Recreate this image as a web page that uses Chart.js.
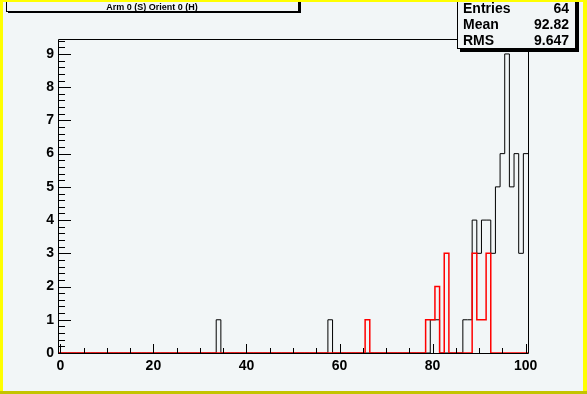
<!DOCTYPE html>
<html><head><meta charset="utf-8">
<script src="https://cdn.jsdelivr.net/npm/chart.js@4/dist/chart.umd.min.js"></script>
<style>html,body{margin:0;padding:0;background:#f2f6f7;overflow:hidden}</style>
</head><body>
<div style="width:587px;height:394px;position:relative"><canvas id="c" width="587" height="394"></canvas></div>
<script>
// ---- data ----
const titleText = "Arm 0 (S) Orient 0 (H)";
const statsLabels = ["Entries", "Mean", "RMS"];
const statsValues = ["64", "92.82", "9.647"];
const blackBins   = [34, 58, 80, 81, 87, 88, 89, 90, 91, 92, 93, 94, 95, 96, 97, 98, 99, 100];
const blackCounts = [ 1,  1,  1,  1,  1,  1,  4,  3,  4,  4,  3,  5,  6,  9,  5,  6,  3,   6];
const redBins     = [66, 79, 80, 81, 83, 89, 90, 91, 92];
const redCounts   = [ 1,  1,  1,  2,  3,  3,  1,  1,  3];
const xTickLabels = [0, 20, 40, 60, 80, 100];
const yTickLabels = [0, 1, 2, 3, 4, 5, 6, 7, 8, 9];
const xMin = -0.5, xMax = 100.5, yMax = 9.45, nBins = 101;

function histSteps(bins, counts) {
  const h = new Array(nBins).fill(0);
  bins.forEach((b, i) => { h[b] = counts[i]; });
  const pts = h.map((v, k) => ({ x: xMin + k, y: v }));
  pts.push({ x: xMax, y: h[nBins - 1] });
  return pts;
}

const FONT = "'Liberation Sans', Arial, sans-serif";

const decor = {
  id: 'decor',
  beforeDraw(chart) {
    const ctx = chart.ctx;
    ctx.save();
    ctx.fillStyle = '#f2f6f7';
    ctx.fillRect(0, 0, chart.width, chart.height);
    ctx.restore();
  },
  afterDatasetsDraw(chart) {
    const ctx = chart.ctx, xs = chart.scales.x, ys = chart.scales.y;
    const a = chart.chartArea;
    ctx.save();
    ctx.strokeStyle = '#000';
    ctx.lineWidth = 1;
    // frame
    ctx.beginPath();
    ctx.rect(Math.round(a.left) + 0.5, Math.round(a.top) + 0.5, Math.round(a.right - a.left), Math.round(a.bottom - a.top));
    ctx.stroke();
    // y ticks
    ctx.beginPath();
    for (let v = 0; v <= yMax + 1e-9; v = Math.round((v + 0.2) * 10) / 10) {
      const py = Math.round(ys.getPixelForValue(v)) + 0.5;
      const major = Math.abs(v - Math.round(v)) < 1e-6;
      ctx.moveTo(a.left, py);
      ctx.lineTo(a.left + (major ? 13 : 7), py);
    }
    // x ticks
    for (let v = 0; v <= 100; v += 5) {
      const px = Math.round(xs.getPixelForValue(v)) + 0.5;
      const major = v % 20 === 0;
      ctx.moveTo(px, a.bottom);
      ctx.lineTo(px, a.bottom - (major ? 9 : 5));
    }
    ctx.stroke();
    ctx.restore();
  },
  afterDraw(chart) {
    const ctx = chart.ctx;
    ctx.save();
    // title box
    ctx.fillStyle = '#000';
    ctx.fillRect(8, 2, 293, 11);
    ctx.fillStyle = '#f2f6f7';
    ctx.fillRect(6, 0, 293, 12);
    ctx.strokeStyle = '#000';
    ctx.lineWidth = 1;
    ctx.strokeRect(6.5, -1.5, 292, 13);
    ctx.fillStyle = '#000';
    ctx.font = 'bold 9px ' + FONT;
    ctx.textAlign = 'center';
    ctx.textBaseline = 'alphabetic';
    ctx.fillText(titleText, 152, 10);
    // stats box
    ctx.fillStyle = '#000';
    ctx.fillRect(460, 2, 119, 50);
    ctx.fillStyle = '#f2f6f7';
    ctx.fillRect(457, 0, 119, 49);
    ctx.strokeRect(457.5, -1.5, 118, 50);
    ctx.fillStyle = '#000';
    ctx.font = 'bold 14px ' + FONT;
    statsLabels.forEach((s, i) => {
      const y = 13 + i * 16;
      ctx.textAlign = 'left';
      ctx.fillText(s, 463, y);
      ctx.textAlign = 'right';
      ctx.fillText(statsValues[i], 569, y);
    });
    // canvas bevel border
    ctx.fillStyle = '#ffff00';
    ctx.fillRect(0, 0, 587, 2);
    ctx.fillRect(0, 0, 3, 394);
    ctx.fillRect(583, 0, 4, 394);
    ctx.fillStyle = '#c4c400';
    ctx.fillRect(0, 391, 587, 3);
    ctx.restore();
  }
};

new Chart(document.getElementById('c'), {
  type: 'line',
  data: {
    datasets: [
      { data: histSteps(redBins, redCounts), borderColor: '#ff0000', borderWidth: 1.5, stepped: true, pointRadius: 0, fill: false },
      { data: histSteps(blackBins, blackCounts), borderColor: '#000000', borderWidth: 1, stepped: true, pointRadius: 0, fill: false }
    ]
  },
  options: {
    responsive: false,
    animation: false,
    devicePixelRatio: 1,
    events: [],
    layout: { padding: { left: 0, top: 39, right: 59, bottom: 0 } },
    plugins: { legend: { display: false }, tooltip: { enabled: false }, title: { display: false } },
    scales: {
      x: {
        type: 'linear', min: xMin, max: xMax,
        grid: { display: false, drawTicks: false }, border: { display: false },
        afterBuildTicks: s => { s.ticks = xTickLabels.map(v => ({ value: v })); },
        afterFit: s => { s.height = 41; },
        ticks: { color: '#000', padding: 5, maxRotation: 0, autoSkip: false, font: { family: FONT, size: 14, weight: 'bold' } }
      },
      y: {
        type: 'linear', min: 0, max: yMax,
        grid: { display: false, drawTicks: false }, border: { display: false },
        afterBuildTicks: s => { s.ticks = yTickLabels.map(v => ({ value: v })); },
        afterFit: s => { s.width = 58; },
        ticks: { color: '#000', padding: 4, autoSkip: false, font: { family: FONT, size: 14, weight: 'bold' } }
      }
    }
  },
  plugins: [decor]
});
</script>
</body></html>
